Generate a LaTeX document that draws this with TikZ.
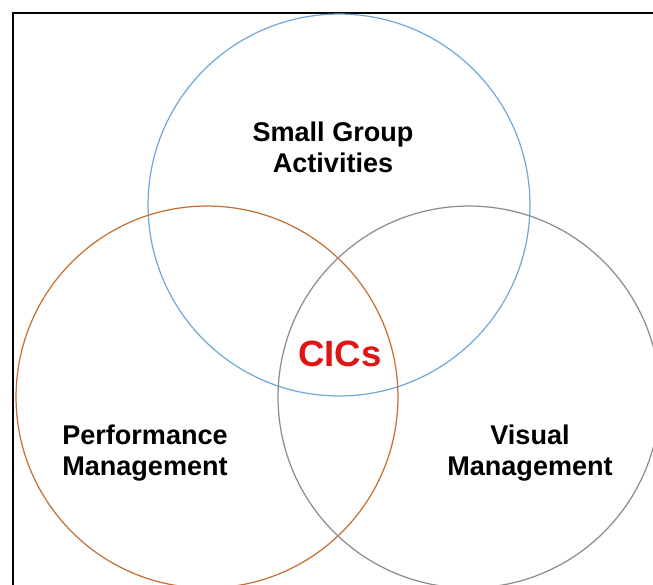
\documentclass[tikz,border=0pt]{standalone}
\usepackage{fontspec}
\setmainfont{Liberation Sans}
\usepackage{tikz}
\usetikzlibrary{positioning}

\definecolor{sgablue}{RGB}{111,168,220}
\definecolor{pmorange}{RGB}{196,112,52}
\definecolor{vmgray}{RGB}{140,140,140}
\definecolor{cicred}{RGB}{225,20,20}

\begin{document}
\begin{tikzpicture}[x=0.02cm,y=-0.02cm,font=\bfseries]
        % Setup the styles for the rings and labels
        \tikzset{ring style/.style={circle,
                                    minimum size=7.64cm,
                                    line width=0.7pt},
                 label style/.style={align=center,
                                     font=\fontsize{15.4}{17.8}\selectfont\bfseries}}

        \useasboundingbox (0,0) rectangle (653,585);

        % Draw the frame
        \draw[line width=1.1pt] (13,585) -- (13,13) -- (653,13);

        % Draw the rings
        \node[ring style, draw=sgablue]  at (339, 205) (sga) {};
        \node[ring style, draw=pmorange] at (207, 397) (pm)  {};
        \node[ring style, draw=vmgray]   at (469, 397) (vm)  {};

        % Put the labels in
        \node[label style] at (333, 147) (sgatext) {Small Group\\Activities};
        \node[label style] at (145, 453) (pmtext)  {Performance\\Management};
        \node[label style] at (530, 453) (vmtext)  {Visual\\Management};
        \node[text=cicred, font=\fontsize{20.8}{24}\selectfont\bfseries]
            at (340, 354) (cics) {CICs};
\end{tikzpicture}
\end{document}
